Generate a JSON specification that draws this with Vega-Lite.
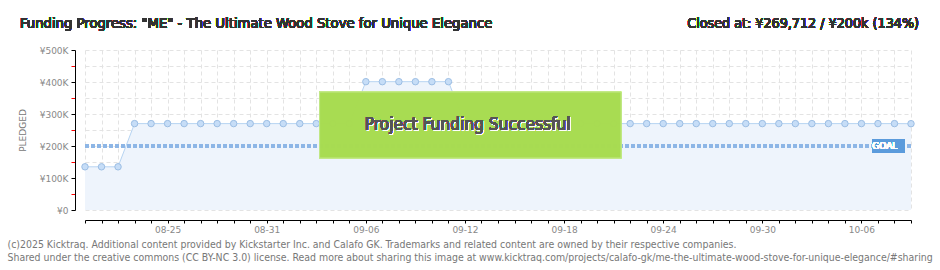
{
  "$schema": "https://vega.github.io/schema/vega-lite/v6.json",
  "width": 826,
  "height": 160,
  "autosize": {"type": "none"},
  "padding": {"left": 85, "top": 50, "right": 29, "bottom": 60},
  "background": "white",
  "config": {"view": {"stroke": null}, "axis": {"labelOverlap": false}},
  "resolve": {"axis": {"x": "independent", "y": "independent"}},
  "data": {
    "values": [
      {"date": "2025-08-20", "pledged": 135000},
      {"date": "2025-08-21", "pledged": 135000},
      {"date": "2025-08-22", "pledged": 135000},
      {"date": "2025-08-23", "pledged": 270000},
      {"date": "2025-08-24", "pledged": 270000},
      {"date": "2025-08-25", "pledged": 270000},
      {"date": "2025-08-26", "pledged": 270000},
      {"date": "2025-08-27", "pledged": 270000},
      {"date": "2025-08-28", "pledged": 270000},
      {"date": "2025-08-29", "pledged": 270000},
      {"date": "2025-08-30", "pledged": 270000},
      {"date": "2025-08-31", "pledged": 270000},
      {"date": "2025-09-01", "pledged": 270000},
      {"date": "2025-09-02", "pledged": 270000},
      {"date": "2025-09-03", "pledged": 270000},
      {"date": "2025-09-04", "pledged": 270000},
      {"date": "2025-09-05", "pledged": 270000},
      {"date": "2025-09-06", "pledged": 401000},
      {"date": "2025-09-07", "pledged": 401000},
      {"date": "2025-09-08", "pledged": 401000},
      {"date": "2025-09-09", "pledged": 401000},
      {"date": "2025-09-10", "pledged": 401000},
      {"date": "2025-09-11", "pledged": 401000},
      {"date": "2025-09-12", "pledged": 270000},
      {"date": "2025-09-13", "pledged": 270000},
      {"date": "2025-09-14", "pledged": 270000},
      {"date": "2025-09-15", "pledged": 270000},
      {"date": "2025-09-16", "pledged": 270000},
      {"date": "2025-09-17", "pledged": 270000},
      {"date": "2025-09-18", "pledged": 270000},
      {"date": "2025-09-19", "pledged": 270000},
      {"date": "2025-09-20", "pledged": 270000},
      {"date": "2025-09-21", "pledged": 270000},
      {"date": "2025-09-22", "pledged": 270000},
      {"date": "2025-09-23", "pledged": 270000},
      {"date": "2025-09-24", "pledged": 270000},
      {"date": "2025-09-25", "pledged": 270000},
      {"date": "2025-09-26", "pledged": 270000},
      {"date": "2025-09-27", "pledged": 270000},
      {"date": "2025-09-28", "pledged": 270000},
      {"date": "2025-09-29", "pledged": 270000},
      {"date": "2025-09-30", "pledged": 270000},
      {"date": "2025-10-01", "pledged": 270000},
      {"date": "2025-10-02", "pledged": 270000},
      {"date": "2025-10-03", "pledged": 270000},
      {"date": "2025-10-04", "pledged": 270000},
      {"date": "2025-10-05", "pledged": 270000},
      {"date": "2025-10-06", "pledged": 270000},
      {"date": "2025-10-07", "pledged": 270000},
      {"date": "2025-10-08", "pledged": 270000},
      {"date": "2025-10-09", "pledged": 269712}
    ],
    "format": {"parse": {"date": "date:'%Y-%m-%d'"}}
  },
  "layer": [
    {
      "mark": {"type": "area", "color": "#eef4fc", "opacity": 1},
      "encoding": {
        "x": {
          "field": "date",
          "type": "temporal",
          "scale": {
            "domain": [
              {"year": 2025, "month": 8, "date": 20},
              {"year": 2025, "month": 10, "date": 9}
            ],
            "nice": false
          },
          "axis": {
            "tickCount": {"interval": "day", "step": 1},
            "grid": true,
            "gridColor": "#e3e3e3",
            "gridDash": [4, 3],
            "gridWidth": 1,
            "offset": 10,
            "domainColor": "#000000",
            "domainWidth": 1,
            "tickColor": "#000000",
            "tickSize": 3,
            "labelExpr": "(round((datum.value - datetime(2025,7,20))/86400000) % 6 == 5) ? timeFormat(datum.value, '%m-%d') : ''",
            "labelOverlap": false,
            "labelFlush": false,
            "labelPadding": 2,
            "labelColor": "#888888",
            "labelFont": "DejaVu Sans",
            "labelFontSize": 9,
            "title": [
              "(c)2025 Kicktraq. Additional content provided by Kickstarter Inc. and Calafo GK. Trademarks and related content are owned by their respective companies.",
              "Shared under the creative commons (CC BY-NC 3.0) license. Read more about sharing this image at www.kicktraq.com/projects/calafo-gk/me-the-ultimate-wood-stove-for-unique-elegance/#sharing"
            ],
            "titleAnchor": "start",
            "titleAlign": "left",
            "titleBaseline": "alphabetic",
            "titleX": -78,
            "titleY": 27,
            "titleLineHeight": 13.5,
            "titleFont": "DejaVu Sans Condensed",
            "titleFontSize": 10.45,
            "titleFontWeight": "normal",
            "titleColor": "#777777"
          }
        },
        "y": {
          "field": "pledged",
          "type": "quantitative",
          "scale": {"domain": [0, 500000], "nice": false},
          "axis": {
            "values": [0, 50000, 100000, 150000, 200000, 250000, 300000, 350000, 400000, 450000, 500000],
            "labelExpr": "datum.value == 0 ? '¥0' : '¥' + (datum.value/1000) + 'K'",
            "labelColor": {"condition": {"test": "datum.value % 100000 != 0", "value": "transparent"}, "value": "#888888"},
            "grid": true,
            "gridColor": "#e3e3e3",
            "gridDash": [4, 3],
            "offset": 10,
            "domainColor": "#000000",
            "tickColor": {"condition": {"test": "datum.value % 100000 != 0", "value": "#ff0000"}, "value": "#000000"},
            "tickSize": 4,
            "labelPadding": 3,
            "labelFont": "DejaVu Sans",
            "labelFontSize": 9,
            "labelOverlap": false,
            "labelFlush": false,
            "title": "PLEDGED",
            "titleColor": "#777777",
            "titleFont": "DejaVu Sans",
            "titleFontSize": 9,
            "titleFontWeight": "normal",
            "titlePadding": 12
          }
        }
      }
    },
    {
      "mark": {"type": "rule", "color": "#8db6e6", "strokeWidth": 3, "strokeDash": [4, 2]},
      "encoding": {"y": {"datum": 200000, "type": "quantitative", "axis": null}}
    },
    {
      "mark": {"type": "line", "color": "#b7d4f2", "strokeWidth": 1},
      "encoding": {
        "x": {"field": "date", "type": "temporal", "axis": null},
        "y": {"field": "pledged", "type": "quantitative", "axis": null}
      }
    },
    {
      "mark": {"type": "point", "shape": "circle", "filled": true, "size": 42, "fill": "#c6ddf7", "stroke": "#9cbee4", "strokeWidth": 1, "opacity": 1},
      "encoding": {
        "x": {"field": "date", "type": "temporal", "axis": null},
        "y": {"field": "pledged", "type": "quantitative", "axis": null}
      }
    },
    {
      "mark": {"type": "rect", "color": "#a8dc52", "opacity": 0.92, "stroke": "#c2e887", "strokeWidth": 1},
      "encoding": {
        "x": {"datum": {"year": 2025, "month": 9, "date": 3, "hours": 4, "minutes": 48}, "type": "temporal", "axis": null},
        "x2": {"datum": {"year": 2025, "month": 9, "date": 21, "hours": 10, "minutes": 48}},
        "y": {"datum": 368750, "type": "quantitative", "axis": null},
        "y2": {"datum": 162500}
      }
    },
    {
      "mark": {"type": "text", "text": "Project Funding Successful", "font": "DejaVu Sans Condensed", "fontSize": 17.2, "color": "#ffffff", "align": "center", "baseline": "middle", "dx": 1, "dy": 1},
      "encoding": {
        "x": {"datum": {"year": 2025, "month": 9, "date": 12, "hours": 4}, "type": "temporal", "axis": null},
        "y": {"datum": 265600, "type": "quantitative", "axis": null}
      }
    },
    {
      "mark": {"type": "text", "text": "Project Funding Successful", "font": "DejaVu Sans Condensed", "fontSize": 17.2, "color": "#555555", "align": "center", "baseline": "middle"},
      "encoding": {
        "x": {"datum": {"year": 2025, "month": 9, "date": 12, "hours": 4}, "type": "temporal", "axis": null},
        "y": {"datum": 265600, "type": "quantitative", "axis": null}
      }
    },
    {
      "mark": {"type": "rect", "color": "#5b9bdc", "cornerRadius": 1},
      "encoding": {
        "x": {"datum": {"year": 2025, "month": 10, "date": 6, "hours": 15, "minutes": 22}, "type": "temporal", "axis": null},
        "x2": {"datum": {"year": 2025, "month": 10, "date": 8, "hours": 14, "minutes": 24}},
        "y": {"datum": 221900, "type": "quantitative", "axis": null},
        "y2": {"datum": 179000}
      }
    },
    {
      "mark": {"type": "text", "text": "GOAL", "font": "DejaVu Sans", "fontSize": 9, "fontWeight": "normal", "color": "#ffffff", "align": "center", "baseline": "middle"},
      "encoding": {
        "x": {"datum": {"year": 2025, "month": 10, "date": 7, "hours": 10}, "type": "temporal", "axis": null},
        "y": {"datum": 201000, "type": "quantitative", "axis": null}
      }
    },
    {
      "mark": {"type": "text", "text": "Funding Progress: \"ME\" - The Ultimate Wood Stove for Unique Elegance", "font": "DejaVu Sans Condensed", "fontSize": 14.7, "color": "#333333", "align": "left", "baseline": "middle", "dx": -65},
      "encoding": {
        "x": {"datum": {"year": 2025, "month": 8, "date": 20}, "type": "temporal", "axis": null},
        "y": {"datum": 580000, "type": "quantitative", "axis": null}
      }
    },
    {
      "mark": {"type": "text", "text": "Closed at:  ¥269,712 /  ¥200k (134%)", "font": "DejaVu Sans Condensed", "fontSize": 14.2, "color": "#333333", "align": "right", "baseline": "middle", "dx": 8},
      "encoding": {
        "x": {"datum": {"year": 2025, "month": 10, "date": 9}, "type": "temporal", "axis": null},
        "y": {"datum": 580000, "type": "quantitative", "axis": null}
      }
    }
  ]
}
